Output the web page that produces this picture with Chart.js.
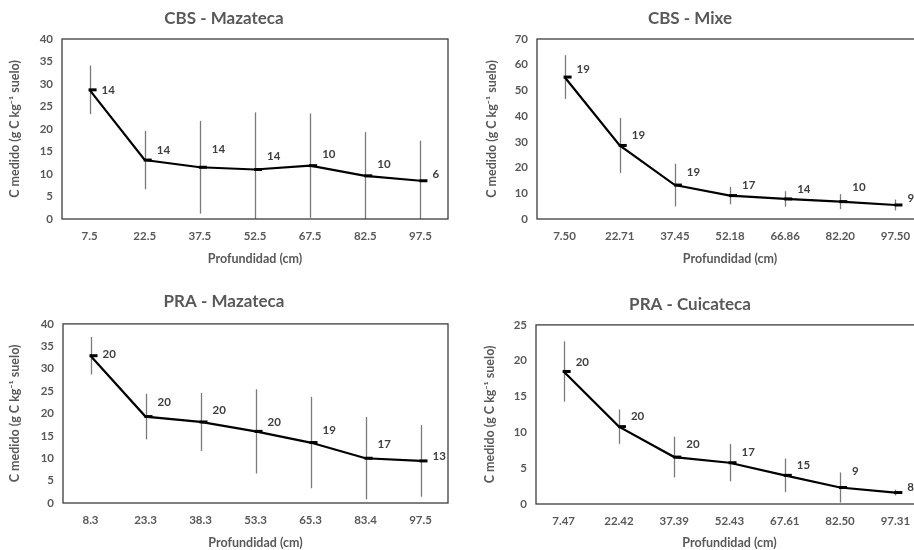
<!DOCTYPE html>
<html lang="es">
<head>
<meta charset="utf-8">
<title>C medido por profundidad</title>
<script src="https://cdn.jsdelivr.net/npm/chart.js@4.4.1/dist/chart.umd.min.js"></script>
<style>
  html, body { margin: 0; padding: 0; background: #fff; overflow: hidden; }
  body { width: 914px; height: 550px; position: relative; }
  .panel { position: absolute; }
  .panel canvas { display: block; }
</style>
</head>
<body>
<div class="panel" style="left:0;top:0;width:457px;height:275px"><canvas id="chart-cbs-maz"></canvas></div>
<div class="panel" style="left:457px;top:0;width:524px;height:275px"><canvas id="chart-cbs-mixe"></canvas></div>
<div class="panel" style="left:0;top:275px;width:457px;height:275px"><canvas id="chart-pra-maz"></canvas></div>
<div class="panel" style="left:457px;top:275px;width:524px;height:275px"><canvas id="chart-pra-cuic"></canvas></div>

<script>
/* Carbono medido por profundidad — cuatro paneles con barras de error */

// ── Data ─────────────────────────────────────────────────────────────────────
const CBS_MAZ_DEPTH = ['7.5', '22.5', '37.5', '52.5', '67.5', '82.5', '97.5'];
const CBS_MAZ_MEAN  = [28.7, 13.1, 11.5, 11.0, 11.85, 9.6, 8.5];
const CBS_MAZ_ERR   = [5.4, 6.5, 10.3, 12.7, 11.6, 9.7, 8.9];
const CBS_MAZ_N     = [14, 14, 14, 14, 10, 10, 6];

const CBS_MIXE_DEPTH = ['7.50', '22.71', '37.45', '52.18', '66.86', '82.20', '97.50'];
const CBS_MIXE_MEAN  = [55.2, 28.6, 13.2, 9.1, 7.8, 6.75, 5.45];
const CBS_MIXE_ERR   = [8.5, 10.7, 8.3, 3.4, 3.0, 2.9, 2.1];
const CBS_MIXE_N     = [19, 19, 19, 17, 14, 10, 9];

const PRA_MAZ_DEPTH = ['8.3', '23.3', '38.3', '53.3', '65.3', '83.4', '97.5'];
const PRA_MAZ_MEAN  = [32.9, 19.3, 18.1, 16.0, 13.5, 10.0, 9.4];
const PRA_MAZ_ERR   = [4.2, 5.1, 6.5, 9.4, 10.2, 9.2, 8.0];
const PRA_MAZ_N     = [20, 20, 20, 20, 19, 17, 13];

const PRA_CUIC_DEPTH = ['7.47', '22.42', '37.39', '52.43', '67.61', '82.50', '97.31'];
const PRA_CUIC_MEAN  = [18.5, 10.8, 6.55, 5.76, 4.0, 2.3, 1.6];
const PRA_CUIC_ERR   = [4.2, 2.4, 2.85, 2.6, 2.35, 2.1, 0.4];
const PRA_CUIC_N     = [20, 20, 20, 17, 15, 9, 8];

// ── Style ────────────────────────────────────────────────────────────────────
const FONT = 'Lato, "Open Sans", sans-serif';
const GREY_TEXT = '#595959';
const Y_TITLE = 'C medido (g C kg\u207B\u00B9 suelo)';
const X_TITLE = 'Profundidad (cm)';

// ── Plugin: frame, error bars, dash markers, n labels ───────────────────────
const errorBarsPlugin = {
  id: 'errorBars',
  beforeDatasetsDraw(chart) {
    const { ctx, chartArea: a, scales: { x, y } } = chart;
    const cfg = chart.options.plugins.errorBars;
    ctx.save();
    ctx.beginPath();
    ctx.rect(a.left, a.top, a.right - a.left, a.bottom - a.top);
    ctx.clip();
    ctx.strokeStyle = '#7a7a7a';
    ctx.lineWidth = 1.3;
    cfg.mean.forEach((m, i) => {
      const px = Math.round(x.getPixelForValue(i)) + 0.5;
      ctx.beginPath();
      ctx.moveTo(px, y.getPixelForValue(m + cfg.err[i]));
      ctx.lineTo(px, y.getPixelForValue(m - cfg.err[i]));
      ctx.stroke();
    });
    ctx.restore();
  },
  afterDatasetsDraw(chart) {
    const { ctx, chartArea: a, scales: { x, y } } = chart;
    const cfg = chart.options.plugins.errorBars;
    ctx.save();
    // plot frame
    ctx.strokeStyle = '#3c3c3c';
    ctx.lineWidth = 1.3;
    ctx.strokeRect(a.left, a.top, a.right - a.left, a.bottom - a.top);

    // dash markers to the right of each bar
    ctx.strokeStyle = '#000';
    ctx.lineWidth = 3;
    cfg.mean.forEach((m, i) => {
      const px = x.getPixelForValue(i);
      const py = y.getPixelForValue(m);
      ctx.beginPath();
      ctx.moveTo(px - 1, py);
      ctx.lineTo(px + 7, py);
      ctx.stroke();
    });

    // sample size labels
    ctx.fillStyle = '#404040';
    ctx.font = `bold 11.5px ${FONT}`;
    ctx.textAlign = 'left';
    ctx.textBaseline = 'middle';
    cfg.n.forEach((n, i) => {
      const px = x.getPixelForValue(i);
      const py = y.getPixelForValue(cfg.mean[i]);
      ctx.fillText(String(n), px + 12, py - cfg.lift[i]);
    });
    ctx.restore();
  }
};

// ── Chart builder ────────────────────────────────────────────────────────────
function buildPanel(id, p) {
  new Chart(document.getElementById(id), {
    type: 'line',
    data: {
      labels: p.depth,
      datasets: [{
        data: p.mean,
        borderColor: '#000',
        borderWidth: 2.2,
        pointRadius: 0,
        tension: 0,
        fill: false,
      }]
    },
    options: {
      responsive: true,
      maintainAspectRatio: false,
      animation: false,
      layout: { padding: { left: 0, right: p.padRight, top: 0, bottom: 0 } },
      plugins: {
        legend: { display: false },
        tooltip: { enabled: false },
        title: {
          display: true,
          text: p.title,
          color: GREY_TEXT,
          font: { family: FONT, size: 17, weight: 'bold' },
          padding: p.titlePad,
        },
        errorBars: { mean: p.mean, err: p.err, n: p.n, lift: p.lift },
      },
      scales: {
        x: {
          type: 'category',
          offset: true,
          grid: { display: false, drawTicks: false },
          border: { display: false },
          ticks: { color: GREY_TEXT, font: { family: FONT, size: 11.5, weight: 'bold' }, padding: 10, maxRotation: 0 },
          title: {
            display: true,
            text: X_TITLE,
            color: GREY_TEXT,
            font: { family: FONT, size: 12.5, weight: 'bold' },
            padding: { top: 0, bottom: p.xTitlePad },
          },
          afterFit: s => { s.height = p.xHeight; },
        },
        y: {
          min: 0,
          max: p.yMax,
          grid: { display: false, drawTicks: false },
          border: { display: false },
          ticks: { stepSize: p.yStep, color: GREY_TEXT, font: { family: FONT, size: 11.5, weight: 'bold' }, padding: 9 },
          title: {
            display: true,
            text: Y_TITLE,
            color: GREY_TEXT,
            font: { family: FONT, size: 12.5, weight: 'bold' },
            padding: { top: p.yTitlePad, bottom: 0 },
          },
          afterFit: s => { s.width = p.yWidth; },
        }
      }
    },
    plugins: [errorBarsPlugin]
  });
}

// ── Boot ──────────────────────────────────────────────────────────────────────
buildPanel('chart-cbs-maz', {
  title: 'CBS - Mazateca', depth: CBS_MAZ_DEPTH, mean: CBS_MAZ_MEAN, err: CBS_MAZ_ERR, n: CBS_MAZ_N,
  lift: [0, 10, 18, 13, 11, 12, 6],
  yMax: 40, yStep: 5, yWidth: 62, yTitlePad: 7.5, padRight: 9,
  titlePad: { top: 8, bottom: 10.6 }, xHeight: 56, xTitlePad: 8.5,
});

buildPanel('chart-cbs-mixe', {
  title: 'CBS - Mixe', depth: CBS_MIXE_DEPTH, mean: CBS_MIXE_MEAN, err: CBS_MIXE_ERR, n: CBS_MIXE_N,
  lift: [8, 10, 13, 10, 10, 14, 7],
  yMax: 70, yStep: 10, yWidth: 80, yTitlePad: 27.5, padRight: 58,
  titlePad: { top: 8, bottom: 10.6 }, xHeight: 56, xTitlePad: 8.5,
});

buildPanel('chart-pra-maz', {
  title: 'PRA - Mazateca', depth: PRA_MAZ_DEPTH, mean: PRA_MAZ_MEAN, err: PRA_MAZ_ERR, n: PRA_MAZ_N,
  lift: [1, 14, 12, 9, 12, 14, 5],
  yMax: 40, yStep: 5, yWidth: 63, yTitlePad: 7.5, padRight: 9,
  titlePad: { top: 16.5, bottom: 12 }, xHeight: 47, xTitlePad: 0,
});

buildPanel('chart-pra-cuic', {
  title: 'PRA - Cuicateca', depth: PRA_CUIC_DEPTH, mean: PRA_CUIC_MEAN, err: PRA_CUIC_ERR, n: PRA_CUIC_N,
  lift: [9, 10, 13, 10, 10, 16, 5],
  yMax: 25, yStep: 5, yWidth: 79, yTitlePad: 25.5, padRight: 58,
  titlePad: { top: 19.5, bottom: 10 }, xHeight: 46, xTitlePad: 0,
});
</script>
</body>
</html>
